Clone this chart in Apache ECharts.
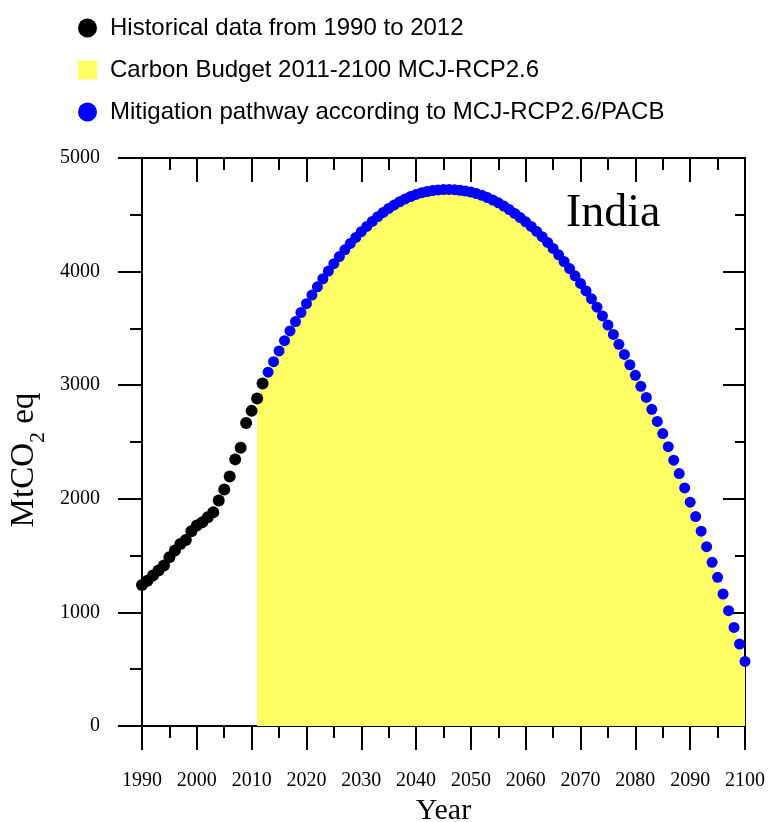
<!DOCTYPE html>
<html>
<head>
<meta charset="utf-8">
<script src="https://cdn.jsdelivr.net/npm/echarts@6/dist/echarts.min.js"></script>
<style>
html,body{margin:0;padding:0;background:#fff;}
#chart{width:769px;height:822px;}
</style>
</head>
<body>
<div id="chart"></div>
<script>
// Historical data 1990-2012
const histYears = [1990,1991,1992,1993,1994,1995,1996,1997,1998,1999,2000,2001,2002,2003,2004,2005,2006,2007,2008,2009,2010,2011,2012];
const histValues = [1241,1279,1324,1368,1412,1485,1544,1603,1638,1715,1765,1794,1838,1882,1985,2082,2197,2347,2450,2668,2774,2882,3015];

// Mitigation pathway 2013-2100
const pathYears = [];
for (let y = 2013; y <= 2100; y++) pathYears.push(y);
const pathValues = [
  3115,3207,3302,3392,3478,3560,3640,3718,3793,3866, // 2013-2022
  3937,4005,4070,4132,4192,4248,4301,4351,4398,4442, // 2023-2032
  4483,4521,4556,4587,4615,4640,4661,4679,4694,4705, // 2033-2042
  4713,4719,4722,4723,4721,4716,4709,4700,4687,4671, // 2043-2052
  4652,4630,4605,4577,4546,4512,4476,4438,4398,4354, // 2053-2062
  4307,4257,4204,4148,4089,4027,3963,3896,3830,3760, // 2063-2072
  3687,3610,3530,3447,3360,3271,3180,3087,2990,2892, // 2073-2082
  2788,2681,2574,2459,2340,2222,2096,1970,1844,1715, // 2083-2092
  1579,1441,1309,1162,1015,868,721,568               // 2093-2100
];

// Carbon budget 2011-2100 (area under the pathway)
const budgetYears = [2011, 2012].concat(pathYears);
const budgetValues = [2882, 3015].concat(pathValues);

const xTicks = [1990,2000,2010,2020,2030,2040,2050,2060,2070,2080,2090,2100];
const yTicks = [0,1000,2000,3000,4000,5000];

const legendNames = [
  'Historical data from 1990 to 2012',
  'Carbon Budget 2011-2100 MCJ-RCP2.6',
  'Mitigation pathway according to MCJ-RCP2.6/PACB'
];

const zip = (a, b) => a.map((v, i) => [v, b[i]]);

const serif = 'Liberation Serif';
const sans = 'Liberation Sans';
const axisLine = {show: true, onZero: false, lineStyle: {color: '#000', width: 2}};
const tickStyle = {color: '#000', width: 2};

const chart = echarts.init(document.getElementById('chart'));
chart.setOption({
  animation: false,
  backgroundColor: '#fff',
  grid: {left: 142, right: 24, top: 158, bottom: 96, containLabel: false, outerBoundsMode: 'none'},
  legend: {
    orient: 'vertical', left: 73, top: 11, padding: 5,
    itemWidth: 19, itemHeight: 19, itemGap: 18,
    textStyle: {fontFamily: sans, fontSize: 24, color: '#000', padding: [0, 0, 0, 8]},
    data: [
      {name: legendNames[0], icon: 'circle', itemStyle: {color: '#000'}},
      {name: legendNames[1], icon: 'rect', itemStyle: {color: '#FFFF66'}},
      {name: legendNames[2], icon: 'circle', itemStyle: {color: '#0000FF'}}
    ]
  },
  graphic: [{
    type: 'text', left: 566, top: 191,
    style: {text: 'India', font: '46px "Liberation Serif"', fill: '#000'}
  }],
  xAxis: [{
    type: 'value', position: 'bottom', min: xTicks[0], max: xTicks[xTicks.length - 1], interval: 10,
    axisLine: axisLine,
    axisTick: {show: true, inside: false, length: 24, lineStyle: tickStyle},
    minorTick: {show: true, splitNumber: 2, length: 12, lineStyle: tickStyle},
    splitLine: {show: false},
    axisLabel: {margin: 45, fontFamily: serif, fontSize: 20, color: '#000', formatter: v => String(v)},
    name: 'Year', nameLocation: 'middle', nameGap: 69,
    nameTextStyle: {fontFamily: serif, fontSize: 30, color: '#000'}
  }, {
    type: 'value', position: 'top', min: xTicks[0], max: xTicks[xTicks.length - 1], interval: 10,
    axisLine: axisLine,
    axisTick: {show: true, inside: true, length: 24, lineStyle: tickStyle},
    minorTick: {show: true, splitNumber: 2, length: 12, lineStyle: tickStyle},
    splitLine: {show: false},
    axisLabel: {show: false}
  }],
  yAxis: [{
    type: 'value', position: 'left', min: yTicks[0], max: yTicks[yTicks.length - 1], interval: 1000,
    axisLine: axisLine,
    axisTick: {show: true, inside: false, length: 24, lineStyle: tickStyle},
    minorTick: {show: true, splitNumber: 2, length: 12, lineStyle: tickStyle},
    splitLine: {show: false},
    axisLabel: {margin: 42, fontFamily: serif, fontSize: 20, color: '#000', formatter: v => String(v)},
    name: '{a|MtCO}{b|2}{a| eq}', nameLocation: 'middle', nameGap: 95, nameRotate: 90,
    nameTextStyle: {
      fontFamily: serif, fontSize: 33, color: '#000', padding: [0, 36, 0, 0],
      rich: {
        a: {fontFamily: serif, fontSize: 33, color: '#000', lineHeight: 36, verticalAlign: 'bottom'},
        b: {fontFamily: serif, fontSize: 22, color: '#000', lineHeight: 36, verticalAlign: 'bottom', padding: [0, 0, -8, 0]}
      }
    }
  }, {
    type: 'value', position: 'right', min: yTicks[0], max: yTicks[yTicks.length - 1], interval: 1000,
    axisLine: axisLine,
    axisTick: {show: true, inside: true, length: 22, lineStyle: tickStyle},
    minorTick: {show: true, splitNumber: 2, length: 10, lineStyle: tickStyle},
    splitLine: {show: false},
    axisLabel: {show: false}
  }],
  series: [{
    name: legendNames[1], type: 'line', xAxisIndex: 0, yAxisIndex: 0,
    data: zip(budgetYears, budgetValues),
    showSymbol: false, symbol: 'none', smooth: false,
    lineStyle: {width: 0, color: '#FFFF66'},
    itemStyle: {color: '#FFFF66'},
    areaStyle: {color: '#FFFF66', opacity: 1},
    z: 1, silent: true
  }, {
    name: legendNames[0], type: 'scatter', xAxisIndex: 0, yAxisIndex: 0,
    data: zip(histYears, histValues),
    symbol: 'circle', symbolSize: 12,
    itemStyle: {color: '#000', opacity: 1},
    z: 3
  }, {
    name: legendNames[2], type: 'scatter', xAxisIndex: 0, yAxisIndex: 0,
    data: zip(pathYears, pathValues),
    symbol: 'circle', symbolSize: 11,
    itemStyle: {color: '#0000FF', opacity: 1},
    z: 3
  }]
});
</script>
</body>
</html>
